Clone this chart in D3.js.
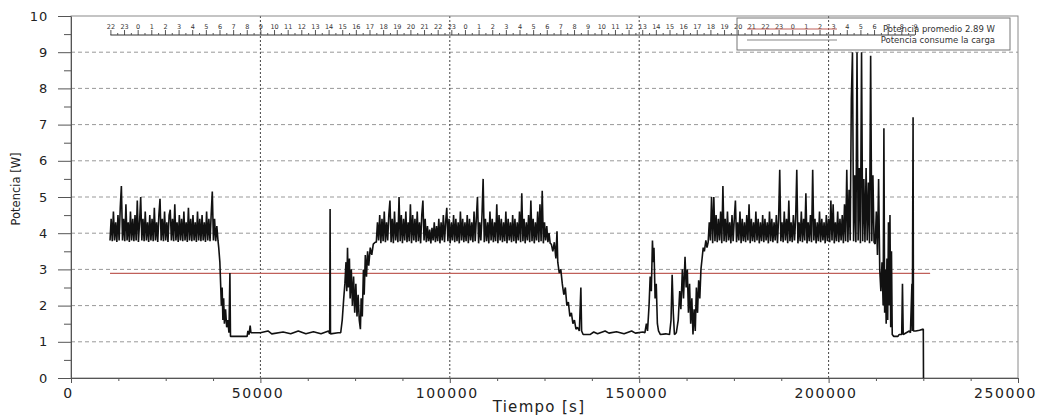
<!DOCTYPE html>
<html>
<head>
<meta charset="utf-8">
<script src="https://cdn.jsdelivr.net/npm/d3@7"></script>
<style>
  body { margin: 0; background: #fff; }
  svg { display: block; font-family: "DejaVu Sans", sans-serif; }
</style>
</head>
<body>
<svg id="grafico" width="1048" height="417"></svg>
<script>
// Medición de potencia de la carga
const ticksX = [0, 50000, 100000, 150000, 200000, 250000];
const ticksY = [0, 1, 2, 3, 4, 5, 6, 7, 8, 9, 10];
const potenciaPromedio = 2.89;
const leyenda = ['Potencia promedio 2.89 W', 'Potencia consume la carga'];

// eje de horas (arriba): primera etiqueta 22 h en t = 10400 s
const horaInicioT = 10400;
const horaInicio = 22;
const numHoras = 60;

// tramos de meseta muestreados cada 300 s
const paso = 300;
const inicioMeseta1 = 10300;
const meseta1 = [
  3.8, 4.4, 3.78, 4.6, 3.8, 4.3, 3.76, 4.5, 3.8, 4.7,
  5.3, 3.8, 4.4, 3.78, 4.8, 3.8, 4.3, 3.76, 4.6, 3.8,
  4.4, 3.78, 4.5, 3.8, 4.9, 3.76, 4.3, 5.0, 3.8, 4.4,
  3.78, 4.6, 3.8, 4.3, 3.76, 4.5, 3.8, 4.4, 3.78, 4.7,
  3.8, 4.3, 3.76, 4.5, 4.95, 3.8, 4.4, 3.78, 4.6, 3.8,
  4.3, 3.76, 4.5, 4.65, 3.8, 4.4, 3.78, 4.8, 3.8, 4.3,
  3.76, 4.5, 3.8, 4.4, 3.78, 4.6, 3.8, 4.3, 3.76, 4.7,
  3.8, 4.4, 3.78, 4.5, 3.8, 4.3, 3.76, 4.6, 3.8, 4.4,
  3.78, 4.5, 3.8, 4.3, 3.76, 4.6, 3.8, 4.4, 3.78, 4.5,
  5.15, 3.8, 4.4, 3.78, 4.2, 3.8
];
const inicioMeseta2 = 80600;
const meseta2 = [
  3.75, 4.3, 3.8, 4.5, 3.72, 4.4, 3.78, 4.6, 3.75, 4.3,
  3.8, 4.5, 4.9, 3.75, 4.4, 3.72, 4.6, 3.8, 4.3, 3.75,
  5.0, 3.78, 4.5, 3.72, 4.4, 3.8, 4.6, 3.75, 4.3, 3.78,
  4.8, 3.72, 4.5, 3.8, 4.4, 3.75, 4.6, 3.78, 4.3, 3.72,
  4.5, 4.9, 3.8, 4.4, 3.75, 4.2, 3.78, 4.1, 3.72, 4.15,
  3.8, 4.3, 3.75, 4.2, 3.78, 4.4, 3.72, 4.3, 3.8, 4.5,
  3.75, 4.3, 4.7, 3.78, 4.4, 3.72, 4.3, 3.8, 4.5, 3.75,
  4.4, 3.78, 4.3, 3.72, 4.6, 3.8, 4.4, 3.75, 4.3, 3.78,
  4.5, 3.72, 4.4, 3.8, 4.3, 3.75, 4.6, 3.78, 4.4, 5.0,
  3.72, 4.3, 3.8, 4.5, 5.5, 3.75, 4.4, 3.78, 4.3, 3.72,
  4.6, 3.8, 4.4, 3.75, 4.3, 3.78, 4.8, 3.72, 4.5, 3.8,
  4.4, 3.75, 4.3, 3.78, 4.6, 3.72, 4.4, 3.8, 4.3, 3.75,
  4.5, 3.78, 4.4, 3.72, 4.3, 3.8, 4.6, 3.75, 5.1, 3.78,
  4.4, 3.72, 4.3, 3.8, 4.5, 3.75, 4.9, 3.78, 4.4, 3.72,
  4.3, 3.8, 4.6, 3.75, 4.8, 3.78, 5.17, 3.72, 4.3, 3.8,
  4.2, 3.75, 4.0, 3.72
];
const inicioMeseta3 = 167900;
const meseta3 = [
  3.6, 3.75, 4.3, 3.8, 5.0, 3.72, 5.0, 3.78, 4.5, 3.75,
  4.4, 3.8, 4.6, 3.72, 5.3, 3.78, 4.4, 3.75, 4.6, 3.8,
  4.3, 3.72, 4.5, 3.78, 4.4, 4.9, 3.75, 4.3, 3.8, 4.6,
  3.72, 4.4, 3.78, 4.3, 3.75, 4.5, 3.8, 4.8, 3.72, 4.4,
  3.78, 4.3, 3.75, 4.6, 3.8, 4.4, 3.72, 4.3, 3.78, 4.5,
  3.75, 4.4, 3.8, 4.3, 3.72, 4.6, 3.78, 4.4, 3.75, 4.3,
  3.8, 4.5, 3.72, 4.4, 5.75, 3.78, 4.3, 3.75, 4.6, 3.8,
  4.4, 3.72, 4.9, 3.78, 4.3, 3.75, 4.5, 3.8, 4.4, 5.75,
  3.72, 4.3, 3.78, 4.6, 3.75, 4.4, 3.8, 5.1, 3.72, 4.3,
  3.78, 4.5, 3.75, 5.75, 3.8, 4.4, 3.72, 4.3, 3.78, 4.6,
  3.75, 4.4, 3.8, 4.3, 3.72, 4.5, 3.78, 4.4, 3.75, 4.9,
  3.8, 4.8, 3.72, 4.3, 3.78, 4.6, 3.75, 4.4, 3.8, 4.5,
  3.72, 4.8, 3.78, 5.75, 3.75, 5.2, 3.8, 7.7, 9.0, 3.78,
  5.6, 3.75, 9.0, 3.8, 5.8, 3.72, 9.0, 3.78, 5.5, 3.75,
  5.8, 3.8, 5.4, 3.72, 8.9, 3.78, 5.6, 3.75
];

// tramos irregulares [tiempo s, potencia W]
const bajada1 = [
  [39000, 3.6], [39300, 3.2], [39500, 2.6], [39700, 2.0], [39900, 2.5],
  [40100, 1.6], [40300, 2.2], [40500, 1.5], [40800, 1.9], [41100, 1.4],
  [41400, 1.6], [41700, 1.25], [41950, 2.9], [42100, 1.15]
];
const reposo1 = [
  [42300, 1.15], [46500, 1.15], [46700, 1.3], [47000, 1.2], [47300, 1.45],
  [47500, 1.25], [50000, 1.25], [52000, 1.3], [53000, 1.22], [56000, 1.27],
  [58000, 1.22], [60000, 1.3], [62000, 1.22], [64000, 1.28], [66000, 1.22],
  [68000, 1.3], [68300, 1.22], [68400, 4.67], [68500, 1.22], [70500, 1.25],
  [71200, 1.25]
];
const subida1 = [
  [71600, 1.6], [72000, 2.2], [72300, 2.6], [72600, 3.2], [72800, 2.4],
  [73000, 3.6], [73200, 2.5], [73500, 3.3], [73700, 2.2], [74000, 3.0],
  [74300, 2.0], [74600, 2.8], [74900, 1.8], [75200, 2.6], [75500, 1.7],
  [75800, 2.3], [76100, 1.6], [76400, 1.35], [76600, 2.2], [76900, 1.7],
  [77200, 3.0], [77400, 2.3], [77700, 3.4], [78000, 2.8], [78300, 3.5],
  [78600, 3.1], [79000, 3.6], [79400, 3.4], [79800, 3.7], [80300, 3.75]
];
const bajada2 = [
  [126800, 3.7], [127200, 3.5], [127600, 3.75], [128000, 3.3], [128300, 4.05],
  [128500, 3.2], [128900, 2.9], [129300, 3.0], [129700, 2.6], [130100, 2.3],
  [130500, 2.5], [130900, 2.0], [131300, 2.1], [131700, 1.7], [132100, 1.8],
  [132500, 1.5], [132900, 1.6], [133300, 1.35], [133700, 1.4], [134200, 1.3],
  [134600, 2.5], [134800, 1.3], [135200, 1.2]
];
const reposo2 = [
  [137000, 1.2], [138000, 1.27], [139000, 1.22], [141000, 1.3], [142000, 1.24],
  [144000, 1.28], [146000, 1.22], [148000, 1.3], [149000, 1.24], [151000, 1.27]
];
const oscilacion = [
  [151500, 1.25], [151900, 1.5], [152200, 1.3], [152600, 2.0], [152900, 2.8],
  [153200, 2.4], [153500, 3.8], [153700, 3.2], [153900, 3.6], [154200, 2.2],
  [154500, 2.6], [154800, 1.5], [155100, 1.3], [155600, 1.2], [157000, 1.22],
  [158000, 1.2], [158400, 1.6], [158700, 2.85], [159000, 1.8], [159300, 1.2],
  [159800, 1.25], [160300, 1.6], [160700, 2.4], [161000, 1.9], [161400, 3.0],
  [161700, 2.2], [162100, 3.35], [162400, 2.5], [162700, 3.0], [163000, 1.8],
  [163300, 2.6], [163600, 1.5], [163900, 2.2], [164200, 1.2], [164500, 1.9],
  [164800, 1.3], [165100, 2.5], [165400, 1.8], [165700, 2.7], [166000, 2.2],
  [166300, 3.0], [166600, 3.3], [166900, 3.6], [167200, 3.5], [167600, 3.8]
];
const bajada3 = [
  [212300, 3.7], [212600, 4.6], [212900, 3.4], [213200, 5.5], [213500, 3.0],
  [213800, 2.4], [214100, 3.2], [214400, 2.0], [214600, 6.9], [214800, 1.8],
  [215000, 3.0], [215200, 1.5], [215400, 3.3], [215600, 1.6], [215800, 4.3],
  [216000, 2.0], [216200, 4.5], [216400, 1.4], [216600, 3.5], [216800, 1.2],
  [217200, 1.15], [218300, 1.15], [218600, 1.2], [219300, 1.2], [219500, 2.6],
  [219700, 1.2], [220500, 1.25], [221300, 1.3], [221600, 1.25], [222000, 2.6],
  [222100, 1.3], [222300, 7.2], [222400, 1.3], [223000, 1.3], [224000, 1.32],
  [225000, 1.35], [225050, 0]
];
const promedioDesde = 10300;
const promedioHasta = 226800;

// ---------------------------------------------------------------
const svg = d3.select('#grafico');
const x = d3.scaleLinear().domain([0, 250000]).range([71, 1018]);
const y = d3.scaleLinear().domain([0, 10]).range([378, 16]);

function meseta(inicio, valores) {
  return valores.map((v, i) => [inicio + i * paso, v]);
}
const serie = [].concat(
  meseta(inicioMeseta1, meseta1), bajada1, reposo1, subida1,
  meseta(inicioMeseta2, meseta2), bajada2, reposo2, oscilacion,
  meseta(inicioMeseta3, meseta3), bajada3
);

// rejilla horizontal (discontinua)
svg.append('g').selectAll('line')
  .data(ticksY.filter(v => v > 0 && v < 10))
  .enter().append('line')
  .attr('x1', x(0)).attr('x2', x(250000))
  .attr('y1', d => y(d)).attr('y2', d => y(d))
  .attr('stroke', '#999').attr('stroke-width', 1)
  .attr('stroke-dasharray', '4,3');

// rejilla vertical (punteada)
svg.append('g').selectAll('line')
  .data(ticksX.filter(v => v > 0 && v < 250000))
  .enter().append('line')
  .attr('x1', d => x(d)).attr('x2', d => x(d))
  .attr('y1', y(0)).attr('y2', y(10))
  .attr('stroke', '#444').attr('stroke-width', 1)
  .attr('stroke-dasharray', '2,2');

// marco
svg.append('rect')
  .attr('x', x(0)).attr('y', y(10))
  .attr('width', x(250000) - x(0)).attr('height', y(0) - y(10))
  .attr('fill', 'none').attr('stroke', '#8a8a8a');

// eje de horas del día
const horasT = d3.range(numHoras).map(k => horaInicioT + k * 3600);
const medias = horasT.slice(0, -1).map(t => t + 1800);
const ejeHoras = svg.append('g').attr('transform', 'translate(0,35)');
ejeHoras.call(d3.axisTop(x).tickValues(horasT).tickSize(5).tickPadding(1)
  .tickFormat((d, i) => (horaInicio + i) % 24));
ejeHoras.select('.domain').remove();
ejeHoras.append('line')
  .attr('x1', x(horasT[0])).attr('x2', x(horasT[horasT.length - 1]))
  .attr('y1', 0).attr('y2', 0);
ejeHoras.append('g').call(d3.axisTop(x).tickValues(medias).tickSize(2).tickFormat(''))
  .select('.domain').remove();
ejeHoras.selectAll('text').attr('font-size', 6.5).attr('fill', '#333')
  .attr('font-family', '"DejaVu Sans", sans-serif');
ejeHoras.selectAll('line').attr('stroke', '#333');

// potencia promedio
svg.append('line')
  .attr('x1', x(promedioDesde)).attr('x2', x(promedioHasta))
  .attr('y1', y(potenciaPromedio)).attr('y2', y(potenciaPromedio))
  .attr('stroke', '#c0605a').attr('stroke-width', 1.2);

// potencia consumida
const linea = d3.line().x(d => x(d[0])).y(d => y(d[1]));
svg.append('path')
  .datum(serie)
  .attr('d', linea)
  .attr('fill', 'none')
  .attr('stroke', '#111')
  .attr('stroke-width', 1.6)
  .attr('stroke-linejoin', 'bevel');

// ejes
const ejeY = svg.append('g').attr('transform', `translate(${x(0)},0)`)
  .call(d3.axisLeft(y).tickValues(ticksY).tickSize(13).tickPadding(10).tickSizeOuter(0));
svg.append('g').attr('transform', `translate(${x(0)},0)`)
  .call(d3.axisLeft(y).tickValues(d3.range(0.5, 10, 1)).tickSize(7).tickFormat('').tickSizeOuter(0))
  .select('.domain').remove();
const ejeX = svg.append('g').attr('transform', `translate(0,${y(0)})`)
  .call(d3.axisBottom(x).tickValues(ticksX).tickSize(5).tickPadding(5).tickSizeOuter(0)
    .tickFormat(d3.format('d')));
svg.append('g').attr('transform', `translate(0,${y(0)})`)
  .call(d3.axisBottom(x).tickValues(d3.range(12500, 250000, 12500).filter(v => v % 50000)).tickSize(3).tickFormat(''))
  .select('.domain').remove();
svg.selectAll('.tick line, .domain').attr('stroke', '#555');
ejeY.selectAll('text').attr('font-size', 13).attr('fill', '#222')
  .attr('letter-spacing', '0.8px').attr('font-family', '"DejaVu Sans", sans-serif');
ejeX.selectAll('text').attr('font-size', 14).attr('fill', '#222')
  .attr('letter-spacing', '1.6px').attr('font-family', '"DejaVu Sans", sans-serif')
  .attr('dx', (d, i) => i === ticksX.length - 1 ? -13 : -3);

// títulos de ejes
svg.append('text')
  .attr('x', 539).attr('y', 412)
  .attr('text-anchor', 'middle')
  .attr('font-size', 15).attr('letter-spacing', '1.3px').attr('fill', '#222')
  .text('Tiempo [s]');
svg.append('text')
  .attr('transform', 'translate(20,189) rotate(-90)')
  .attr('text-anchor', 'middle')
  .attr('font-size', 11.5).attr('fill', '#222')
  .text('Potencia [W]');

// leyenda
const ley = svg.append('g');
ley.append('rect')
  .attr('x', 737).attr('y', 18).attr('width', 273).attr('height', 32)
  .attr('fill', 'none').attr('stroke', '#777');
const colores = ['#c0605a', '#888'];
leyenda.forEach((txt, i) => {
  const yy = 29 + i * 11;
  ley.append('line')
    .attr('x1', 747).attr('x2', 837).attr('y1', yy).attr('y2', yy)
    .attr('stroke', colores[i]).attr('stroke-width', 1.2);
  ley.append('text')
    .attr('x', 995).attr('y', yy + 3)
    .attr('text-anchor', 'end')
    .attr('font-size', 8.5).attr('fill', '#333')
    .text(txt);
});
</script>
</body>
</html>
